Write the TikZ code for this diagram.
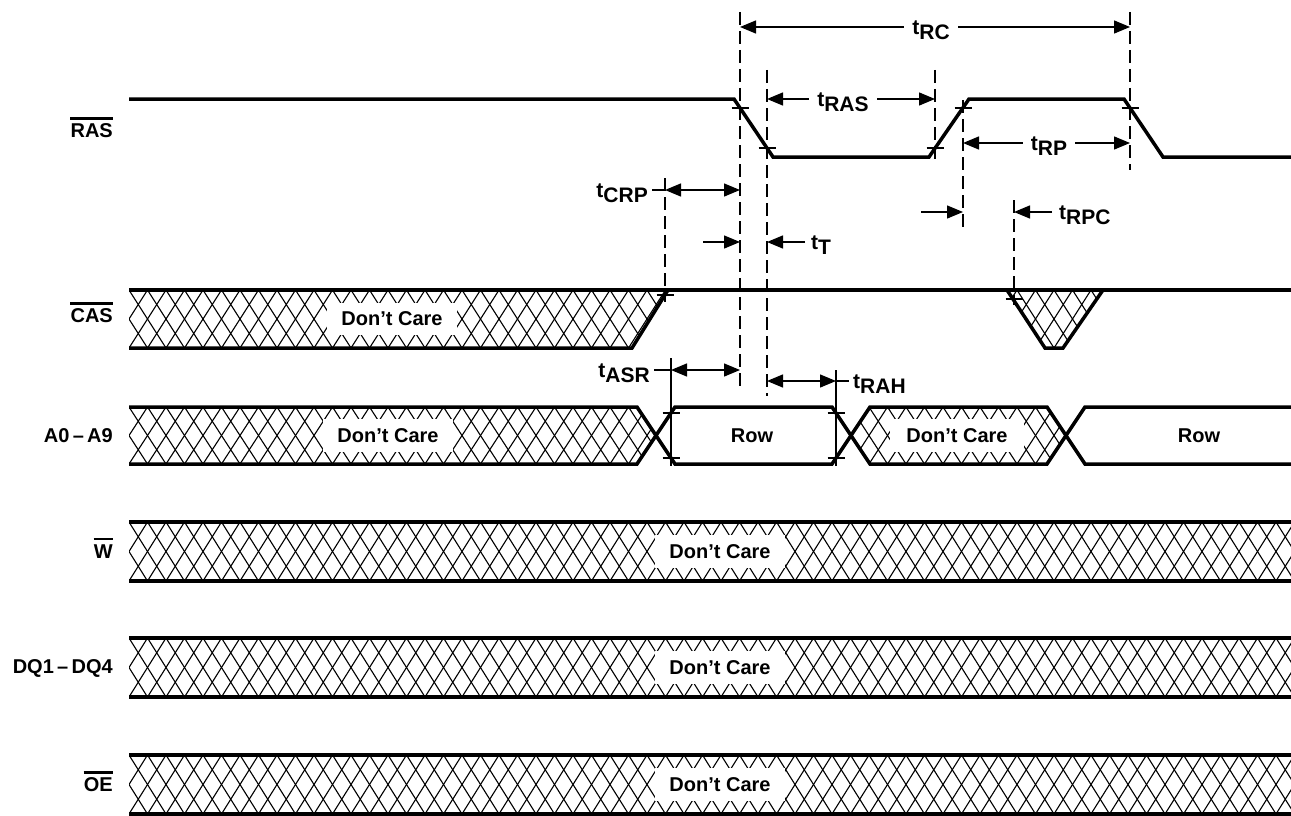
\documentclass[tikz,border=0pt]{standalone}
\usepackage{fontspec}
\setmainfont{Liberation Sans}
\usetikzlibrary{arrows.meta}
\tikzset{
 sig/.style={line width=3.5pt, line join=miter},
 hatchln/.style={line width=1.1pt},
 vdash/.style={line width=1.2pt, dash pattern=on 13pt off 6pt},
 vsolid/.style={line width=1.2pt},
 tickln/.style={line width=1.2pt},
 leader/.style={line width=1.4pt},
 dimarr/.style={line width=1.4pt, -{Triangle[length=16pt,width=13pt]}},
 dimboth/.style={line width=1.4pt, {Triangle[length=16pt,width=13pt]}-{Triangle[length=16pt,width=13pt]}},
 siglab/.style={anchor=east, inner sep=0pt, font=\fontsize{20}{24}\selectfont\bfseries},
 dclab/.style={fill=white, inner xsep=14pt, inner ysep=9pt, font=\fontsize{20}{24}\selectfont\bfseries},
 rowlab/.style={inner sep=0pt, font=\fontsize{20}{24}\selectfont\bfseries},
 tlab/.style={fill=white, inner xsep=8pt, inner ysep=2pt, font=\fontsize{21}{24}\selectfont\bfseries},
 tlabplain/.style={inner sep=0pt, font=\fontsize{21}{24}\selectfont\bfseries},
 barln/.style={line width=2.6pt},
}
\newcommand\tsub[1]{t\raisebox{-5pt}{#1}}
\newcommand\hatchfill[3]{%
 \foreach \k in {-3,...,66} {
   \draw[hatchln] ({#1+\k*18.5},#2) -- ({#1+(\k+2)*18.5},#3);
   \draw[hatchln] ({#1+(\k+2)*18.5},#2) -- ({#1+\k*18.5},#3);
 }}
\newcommand\barover[1]{\draw[barln] ([yshift=5.5pt]#1.north west) -- ([yshift=5.5pt]#1.north east);}
\begin{document}
\begin{tikzpicture}[x=1pt,y=-1pt]
\useasboundingbox (0,0) rectangle (1291,816);

% ---------- hatching ----------
\begin{scope}
 \clip (129,290) -- (668,290) -- (632,348) -- (129,348) -- cycle;
 \hatchfill{129}{290}{348}
\end{scope}
\begin{scope}
 \clip (1007,290) -- (1103,290) -- (1063,348) -- (1045,348) -- cycle;
 \hatchfill{129}{290}{348}
\end{scope}
\begin{scope}
 \clip (129,407) -- (637,407) -- (656,435.5) -- (637,464) -- (129,464) -- cycle;
 \hatchfill{129}{407}{464}
\end{scope}
\begin{scope}
 \clip (851,435.5) -- (870,407) -- (1047,407) -- (1066,435.5) -- (1047,464) -- (870,464) -- cycle;
 \hatchfill{129}{407}{464}
\end{scope}
\begin{scope}
 \clip (129,522) rectangle (1291,581);
 \hatchfill{129}{522}{581}
\end{scope}
\begin{scope}
 \clip (129,638) rectangle (1291,697);
 \hatchfill{129}{638}{697}
\end{scope}
\begin{scope}
 \clip (129,755) rectangle (1291,814);
 \hatchfill{129}{755}{814}
\end{scope}

% ---------- Don't Care / Row labels ----------
\node[dclab] (dcCAS) at (392,319) {Don’t Care};
\node[dclab] (dcA1) at (388,435.5) {Don’t Care};
\node[dclab, inner xsep=16pt] (dcA2) at (957,435.5) {Don’t Care};
\node[rowlab] (row1) at (752,435.5) {Row};
\node[rowlab] (row2) at (1199,435.5) {Row};
\node[dclab] (dcW) at (720,551.5) {Don’t Care};
\node[dclab] (dcDQ) at (720,667.5) {Don’t Care};
\node[dclab] (dcOE) at (720,784.5) {Don’t Care};

% ---------- signal names ----------
\node[siglab] (ras) at (113,131) {RAS}; \barover{ras}
\node[siglab] (cas) at (113,316) {CAS}; \barover{cas}
\node[siglab] (addr) at (113,435.5) {A0\,–\,A9};
\node[siglab] (wr) at (113,551.5) {W}; \barover{wr}
\node[siglab] (dq) at (113,668) {DQ1\,–\,DQ4};
\node[siglab] (oe) at (113,785) {OE}; \barover{oe}

% ---------- waveforms ----------
\draw[sig] (129,99) -- (734,99) -- (773,157) -- (929,157) -- (969,99) -- (1124,99) -- (1163,157) -- (1291,157);
\draw[sig] (129,290) -- (1291,290);
\draw[sig] (129,348) -- (632,348) -- (668,290);
\draw[sig] (1007,290) -- (1045,348) -- (1063,348) -- (1103,290);
\draw[sig] (129,407) -- (637,407) -- (675,464) -- (832,464) -- (870,407) -- (1047,407) -- (1085,464) -- (1291,464);
\draw[sig] (129,464) -- (637,464) -- (675,407) -- (832,407) -- (870,464) -- (1047,464) -- (1085,407) -- (1291,407);
\draw[sig] (129,522) -- (1291,522);
\draw[sig] (129,581) -- (1291,581);
\draw[sig] (129,638) -- (1291,638);
\draw[sig] (129,697) -- (1291,697);
\draw[sig] (129,755) -- (1291,755);
\draw[sig] (129,814) -- (1291,814);

% ---------- reference lines ----------
\draw[vdash] (740,12) -- (740,386);
\draw[vdash] (767,70) -- (767,396);
\draw[vdash] (935,70) -- (935,160);
\draw[vdash] (963,100) -- (963,230);
\draw[vdash] (1130,12) -- (1130,170);
\draw[vdash] (665,178) -- (665,302);
\draw[vdash] (1014,200) -- (1014,305);
\draw[vsolid] (671,358) -- (671,466);
\draw[vsolid] (836,370) -- (836,466);

% ---------- ticks ----------
\foreach \x/\y in {740/108, 767/148, 935/148, 963/108, 1130/108, 665/295, 1014/299, 671/413, 671/458, 836/413, 836/458}
  \draw[tickln] (\x-8.5,\y) -- (\x+8.5,\y);

% ---------- timing dimensions ----------
\coordinate (rcL) at (740,27);  \coordinate (rcR) at (1130,27);
\draw[dimboth] (rcL) -- (rcR);
\node[tlab] (tRC) at (931,30) {\tsub{RC}};

\coordinate (rasL) at (767,99); \coordinate (rasR) at (935,99);
\draw[dimboth] (rasL) -- (rasR);
\node[tlab] (tRAS) at (843,102) {\tsub{RAS}};

\coordinate (rpL) at (963,143); \coordinate (rpR) at (1130,143);
\draw[dimboth] (rpL) -- (rpR);
\node[tlab] (tRP) at (1049,146) {\tsub{RP}};

\coordinate (crpL) at (665,190); \coordinate (crpR) at (740,190);
\node[tlabplain, anchor=east] (tCRP) at (648,193) {\tsub{CRP}};
\draw[dimboth] (crpL) -- (crpR);
\draw[leader] (tCRP.east |- crpL) ++(4,0) -- (crpL);

\coordinate (tTa) at (703,242); \coordinate (tTb) at (740,242);
\coordinate (tTc) at (805,242); \coordinate (tTd) at (767,242);
\draw[dimarr] (tTa) -- (tTb);
\draw[dimarr] (tTc) -- (tTd);
\node[tlabplain, anchor=west] (tT) at (811,245) {\tsub{T}};

\coordinate (rpcA) at (921,212); \coordinate (rpcB) at (963,212);
\coordinate (rpcC) at (1052,212); \coordinate (rpcD) at (1014,212);
\draw[dimarr] (rpcA) -- (rpcB);
\draw[dimarr] (rpcC) -- (rpcD);
\node[tlabplain, anchor=west] (tRPC) at (1059,215) {\tsub{RPC}};

\coordinate (asrL) at (671,370); \coordinate (asrR) at (740,370);
\node[tlabplain, anchor=east] (tASR) at (650,373) {\tsub{ASR}};
\draw[dimboth] (asrL) -- (asrR);
\draw[leader] (tASR.east |- asrL) ++(4,0) -- (asrL);

\coordinate (rahL) at (767,381); \coordinate (rahR) at (836,381);
\draw[dimboth] (rahL) -- (rahR);
\node[tlabplain, anchor=west] (tRAH) at (853,384) {\tsub{RAH}};
\draw[leader] (rahR) -- ([xshift=-4pt]tRAH.west |- rahR);
\end{tikzpicture}
\end{document}
